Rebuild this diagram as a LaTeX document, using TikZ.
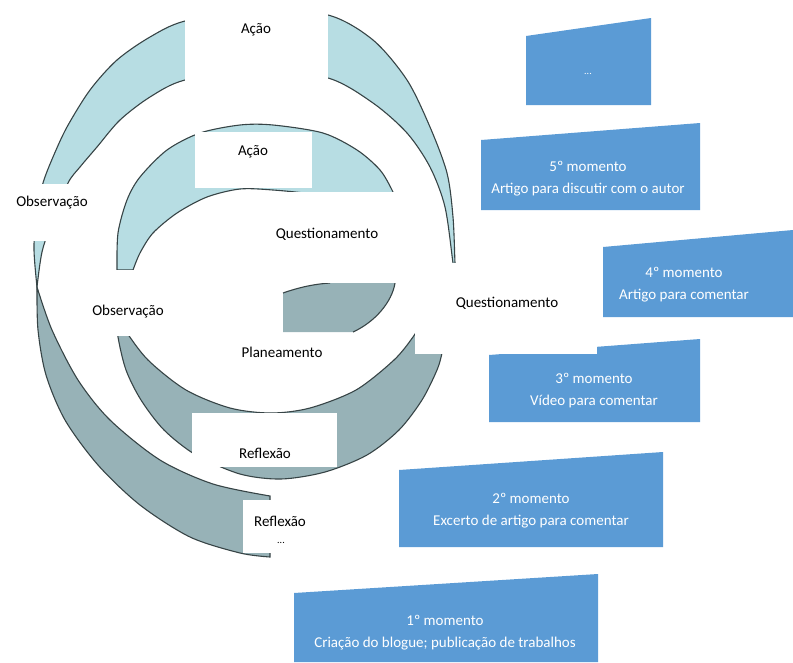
\documentclass[tikz,border=0pt]{standalone}
\usepackage{fontspec}
\setmainfont{Carlito}
\definecolor{ringblue}{RGB}{183,221,227}
\definecolor{ringgrey}{RGB}{151,178,183}
\definecolor{ringline}{RGB}{55,68,70}
\definecolor{boxblue}{RGB}{91,155,213}

\begin{document}
\begin{tikzpicture}[x=1pt, y=-1pt,
    band/.style={draw=ringline, line width=1.1pt},
    mask/.style={fill=white},
    lbl/.style={font=\fontsize{15}{18}\selectfont, text=black},
    boxtext/.style={font=\fontsize{15}{22}\selectfont, text=white, align=center}]
        \useasboundingbox (0,0) rectangle (793,662);

        % Outer ring: upper band (light)
        \filldraw[band, fill=ringblue]
            plot[smooth] coordinates {(37,287) (34,250) (36,215) (43,183) (53,157) (67,127) (90,90) (117,60) (150,37) (185,21) (256,10) (328,15) (373,40) (407,80) (430,127) (447,173) (453,217) (455,263) (456,282)}
            -- plot[smooth] coordinates {(456,282) (453,263) (445,207) (430,167) (407,133) (373,103) (328,78) (256,70) (185,80) (150,97) (120,120) (97,147) (80,167) (68,183) (52,222) (42,252) (37,287)}
            -- cycle;

        % Outer ring: lower band (grey)
        \filldraw[band, fill=ringgrey]
            plot[smooth] coordinates {(37,287) (38,330) (46,375) (65,420) (98,465) (140,505) (190,537) (240,553) (270,557)}
            -- plot[smooth] coordinates {(270,496) (213,484) (160,460) (110,420) (78,380) (52,330) (37,287)}
            -- cycle;

        % Inner ring: upper band (light), cut at the bottom
        \begin{scope}
            \clip (0,0) -- (793,0) -- (793,192) -- (312,192) -- (312,270) -- (0,270) -- cycle;
            \filldraw[band, fill=ringblue]
                plot[smooth] coordinates {(117,270) (118,233) (127,200) (140,177) (167,150) (200,133) (240,125) (273,125) (323,133) (357,150) (380,170) (393,192) (405,220)}
                -- plot[smooth] coordinates {(370,215) (340,200) (312,194) (273,190) (240,189) (207,197) (177,213) (153,233) (140,253) (133,270)}
                -- cycle;
        \end{scope}

        % Inner ring: lower band (grey)
        \filldraw[band, fill=ringgrey]
            plot[smooth] coordinates {(117,316) (118,337) (126,370) (141,400) (164,430) (196,455) (240,474) (281,479) (325,472) (367,455) (399,430) (422,400) (437,370) (442,353) (446,330) (446,300)}
            -- plot[smooth] coordinates {(431,300) (423,320) (413,337) (394,360) (356,390) (310,408) (271,413) (230,408) (186,390) (148,360) (125,330) (117,316)}
            -- cycle;

        % Piece of grey left of Questionamento
        \fill[ringgrey] (283,293) .. controls (300,287) and (315,284) .. (330,283) -- (395,283)
            .. controls (392,302) and (375,322) .. (353,332) -- (283,332) -- cycle;
        \draw[band] (283,293) .. controls (300,287) and (315,284) .. (330,283);
        \draw[band] (395,283) .. controls (392,302) and (375,322) .. (353,332);

        % Moments: slanted boxes
        \foreach \nm/\xl/\xr/\ytl/\ytr/\yb/\xc/\yc/\txt in {
            dots/526/651/36/18/105/588/74/{\fontsize{10}{12}\selectfont ...},
            m5/481/700/140/123/210/588/179/{5º momento\\Artigo para discutir com o autor},
            m4/603/793/247/230/317/684/285/{4º momento\\Artigo para comentar},
            m3/489/700/355/339/422/594/391/{3º momento\\Vídeo para comentar},
            m2/399/663/470/452/547/531/511/{2º momento\\Excerto de artigo para comentar},
            m1/294/598/593/574/662/445/633/{1º momento\\Criação do blogue; publicação de trabalhos}} {
            \fill[boxblue] (\xl,\ytl) -- (\xr,\ytr) -- (\xr,\yb) -- (\xl,\yb) -- cycle;
            \node[boxtext] (\nm) at (\xc,\yc) {\txt};
        }

        % White label boxes over the rings
        \fill[mask] (185,0) rectangle (328,95);
        \fill[mask] (195,132) rectangle (312,188);
        \fill[mask] (0,184) rectangle (105,241);
        \fill[mask] (270,192) rectangle (415,283);
        \fill[mask] (85,270) rectangle (175,336);
        \fill[mask] (415,263) rectangle (597,354);
        \fill[mask] (192,413) rectangle (337,467);
        \fill[mask] (243,500) rectangle (315,553);

        % Labels
        \node[lbl] (acaoA) at (256,30) {Ação};
        \node[lbl] (acaoB) at (253,152) {Ação};
        \node[lbl] (obsA) at (52,203) {Observação};
        \node[lbl] (obsB) at (128,312) {Observação};
        \node[lbl] (questA) at (327,234) {Questionamento};
        \node[lbl] (questB) at (507,303) {Questionamento};
        \node[lbl] (plan) at (282,352) {Planeamento};
        \node[lbl] (reflB) at (265,453) {Reflexão};
        \node[lbl] (reflA) at (280,521) {Reflexão};
        \node[lbl, font=\fontsize{10}{12}\selectfont] (dotsA) at (281,543) {...};

    \end{tikzpicture}
\end{document}
